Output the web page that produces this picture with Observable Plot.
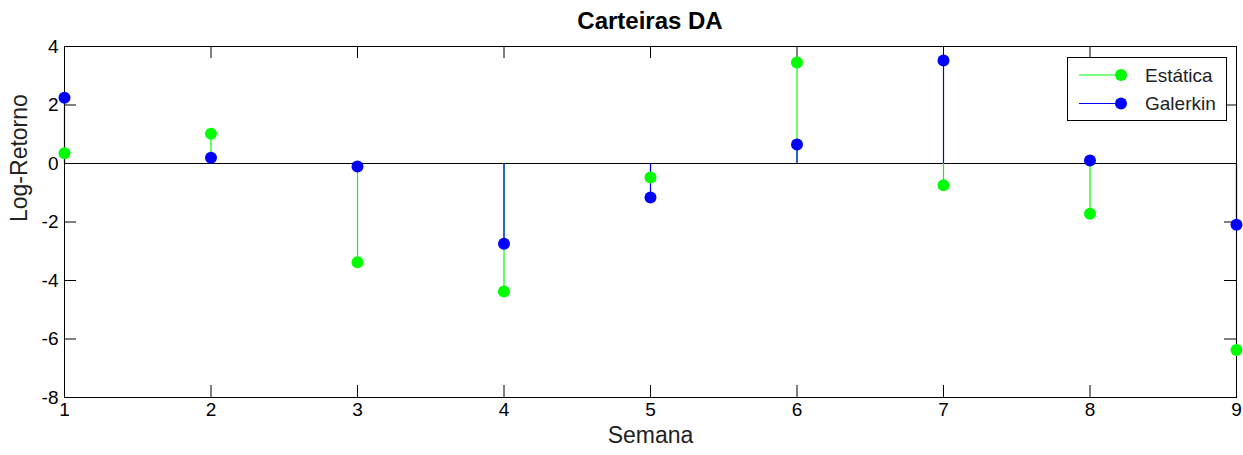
<!DOCTYPE html>
<html>
<head>
<meta charset="utf-8">
<script src="https://cdn.jsdelivr.net/npm/d3@7"></script>
<script src="https://cdn.jsdelivr.net/npm/@observablehq/plot@0.6"></script>
<style>
  html, body { margin: 0; padding: 0; background: #fff; }
  #wrap { position: relative; width: 1243px; height: 455px; font-family: "Liberation Sans", Arial, sans-serif; }
  #title { position: absolute; left: 64px; width: 1172px; top: 0; height: 30px; line-height: 42px;
           text-align: center; font-weight: bold; font-size: 24px; color: #000; z-index: 2; }
  #chart { position: absolute; left: 0; top: 30px; }
  #legend { position: absolute; }
</style>
</head>
<body>
<div id="wrap">
  <div id="title">Carteiras DA</div>
  <div id="chart"></div>
</div>
<script>
// Weekly log-returns for the two portfolios
const semanas = [1, 2, 3, 4, 5, 6, 7, 8, 9];
const estatica = [0.35, 1.02, -3.38, -4.38, -0.48, 3.45, -0.74, -1.72, -6.38];
const galerkin = [2.25, 0.2, -0.1, -2.74, -1.16, 0.65, 3.52, 0.1, -2.09];
const seriesNames = ["Estática", "Galerkin"];
const seriesColors = ["#00ff00", "#0000ff"];
const xTicks = [1, 2, 3, 4, 5, 6, 7, 8, 9];
const yTicks = [-8, -6, -4, -2, 0, 2, 4];

const rows = (vals) => semanas.map((s, i) => ({semana: s, valor: vals[i]}));
const dataE = rows(estatica);
const dataG = rows(galerkin);

const W = 1243, H = 425;
const mL = 64, mR = 7, mT = 16, mB = 58;
const innerW = W - mL - mR, innerH = H - mT - mB;
const tick = 12;

const chart = Plot.plot({
  width: W, height: H,
  marginLeft: mL, marginRight: mR, marginTop: mT, marginBottom: mB,
  style: {fontFamily: "'Liberation Sans', Arial, sans-serif", fontSize: "19px", color: "#000", background: "transparent", overflow: "visible"},
  x: {domain: [1, 9], ticks: xTicks, tickFormat: d => String(d), tickSize: 0, tickPadding: 5, label: null},
  y: {domain: [-8, 4], ticks: yTicks, tickFormat: d => String(d), tickSize: 0, tickPadding: 6, label: null},
  marks: [
    Plot.ruleY([0], {stroke: "#000", strokeWidth: 1}),
    // stems of both series
    Plot.ruleX(dataE, {x: "semana", y1: 0, y2: "valor", stroke: seriesColors[0], strokeWidth: 1.2}),
    Plot.ruleX(dataG, {x: "semana", y1: 0, y2: "valor", stroke: seriesColors[1], strokeWidth: 1.2}),
    // axes box with inward ticks on all four sides
    Plot.frame({stroke: "#000", strokeWidth: 1}),
    Plot.tickX(xTicks, {x: d => d, insetTop: innerH - tick, stroke: "#000"}),
    Plot.tickX(xTicks, {x: d => d, insetBottom: innerH - tick, stroke: "#000"}),
    Plot.tickY(yTicks, {y: d => d, insetRight: innerW - tick, stroke: "#000"}),
    Plot.tickY(yTicks, {y: d => d, insetLeft: innerW - tick, stroke: "#000"}),
    // markers
    Plot.dot(dataE, {x: "semana", y: "valor", r: 6, fill: seriesColors[0], stroke: "none"}),
    Plot.dot(dataG, {x: "semana", y: "valor", r: 6, fill: seriesColors[1], stroke: "none"}),
    // axis titles
    Plot.text(["Semana"], {text: d => d, frameAnchor: "bottom", dy: 45, fontSize: 23, fill: "#222"}),
    Plot.text(["Log-Retorno"], {text: d => d, frameAnchor: "left", dx: -45, rotate: -90, fontSize: 23, fill: "#222"})
  ]
});
document.getElementById("chart").appendChild(chart);

// Legend box in the upper right of the axes
const lg = d3.select("#wrap").append("svg")
  .attr("id", "legend")
  .attr("width", 162).attr("height", 66)
  .style("left", "1066px").style("top", "56px");
lg.append("rect").attr("x", 1.5).attr("y", 1.5).attr("width", 159).attr("height", 63)
  .attr("fill", "#fff").attr("stroke", "#000").attr("stroke-width", 1);
seriesNames.forEach((name, i) => {
  const y = 19 + i * 28.5;
  lg.append("line").attr("x1", 13).attr("x2", 55).attr("y1", y).attr("y2", y)
    .attr("stroke", seriesColors[i]).attr("stroke-width", 1.2);
  lg.append("circle").attr("cx", 55).attr("cy", y).attr("r", 6).attr("fill", seriesColors[i]);
  lg.append("text").attr("x", 79).attr("y", y).attr("dy", "0.35em")
    .attr("font-family", "'Liberation Sans', Arial, sans-serif").attr("font-size", 19)
    .attr("fill", "#222").text(name);
});
</script>
</body>
</html>
